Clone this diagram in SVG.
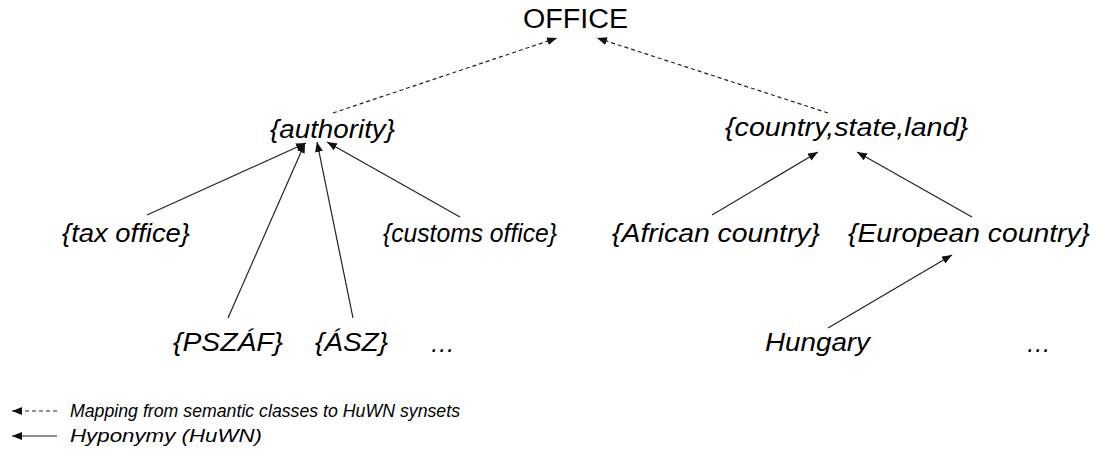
<svg xmlns="http://www.w3.org/2000/svg" width="1095" height="457" viewBox="0 0 1095 457">
<style>
.lbl{font-family:"Liberation Sans",Arial,sans-serif;font-style:italic;font-size:25px;fill:#000}
.top{font-family:"Liberation Sans",Arial,sans-serif;font-size:27px;fill:#000}
.leg{font-family:"Liberation Sans",Arial,sans-serif;font-style:italic;font-size:18px;fill:#000}
.c{fill:none;stroke:#222;stroke-width:1.2}
.d{stroke-dasharray:4 3}
</style>
<defs>
<marker id="ah" viewBox="0 0 10 8" refX="10" refY="4" markerWidth="10" markerHeight="8" markerUnits="userSpaceOnUse" orient="auto">
<path d="M0,0 L10,4 L0,8 z" fill="#111"/>
</marker>
</defs>
<rect width="1095" height="457" fill="#fff"/>
<g id="connectors">
<path class="c d" d="M333,113 L557,38" marker-end="url(#ah)"/>
<path class="c d" d="M828,113 L597,38" marker-end="url(#ah)"/>
<path class="c" d="M147,215 L306,143" marker-end="url(#ah)"/>
<path class="c" d="M228,318 L305,143" marker-end="url(#ah)"/>
<path class="c" d="M353,318 L317,142" marker-end="url(#ah)"/>
<path class="c" d="M460,217 L327,142" marker-end="url(#ah)"/>
<path class="c" d="M712,215 L818,152" marker-end="url(#ah)"/>
<path class="c" d="M972,217 L857,152" marker-end="url(#ah)"/>
<path class="c" d="M828,328 L952,255" marker-end="url(#ah)"/>
</g>
<g id="office"><text class="top" x="523" y="28" textLength="105" lengthAdjust="spacingAndGlyphs">OFFICE</text></g>
<g id="authority"><text class="lbl" x="270" y="138" textLength="125" lengthAdjust="spacingAndGlyphs">{authority}</text></g>
<g id="country"><text class="lbl" x="725" y="136" textLength="243" lengthAdjust="spacingAndGlyphs">{country,state,land}</text></g>
<g id="tax-office"><text class="lbl" x="62" y="242" textLength="128" lengthAdjust="spacingAndGlyphs">{tax office}</text></g>
<g id="customs-office"><text class="lbl" x="383" y="242" textLength="174" lengthAdjust="spacingAndGlyphs">{customs office}</text></g>
<g id="african-country"><text class="lbl" x="612" y="242" textLength="208" lengthAdjust="spacingAndGlyphs">{African country}</text></g>
<g id="european-country"><text class="lbl" x="848" y="242" textLength="242" lengthAdjust="spacingAndGlyphs">{European country}</text></g>
<g id="pszaf"><text class="lbl" x="173" y="351" textLength="110" lengthAdjust="spacingAndGlyphs">{PSZÁF}</text></g>
<g id="asz"><text class="lbl" x="315" y="351" textLength="73" lengthAdjust="spacingAndGlyphs">{ÁSZ}</text></g>
<g id="ellipsis-left"><text class="lbl" x="430" y="352" textLength="25" lengthAdjust="spacingAndGlyphs">…</text></g>
<g id="hungary"><text class="lbl" x="765" y="351" textLength="105" lengthAdjust="spacingAndGlyphs">Hungary</text></g>
<g id="ellipsis-right"><text class="lbl" x="1026" y="352" textLength="25" lengthAdjust="spacingAndGlyphs">…</text></g>
<g id="legend">
<path class="c d" d="M57,411 L12,411" marker-end="url(#ah)"/>
<path class="c" d="M57,436 L12,436" marker-end="url(#ah)"/>
<text class="leg" x="70" y="417" textLength="390" lengthAdjust="spacingAndGlyphs">Mapping from semantic classes to HuWN synsets</text>
<text class="leg" x="70" y="442" textLength="192" lengthAdjust="spacingAndGlyphs">Hyponymy (HuWN)</text>
</g>
</svg>
